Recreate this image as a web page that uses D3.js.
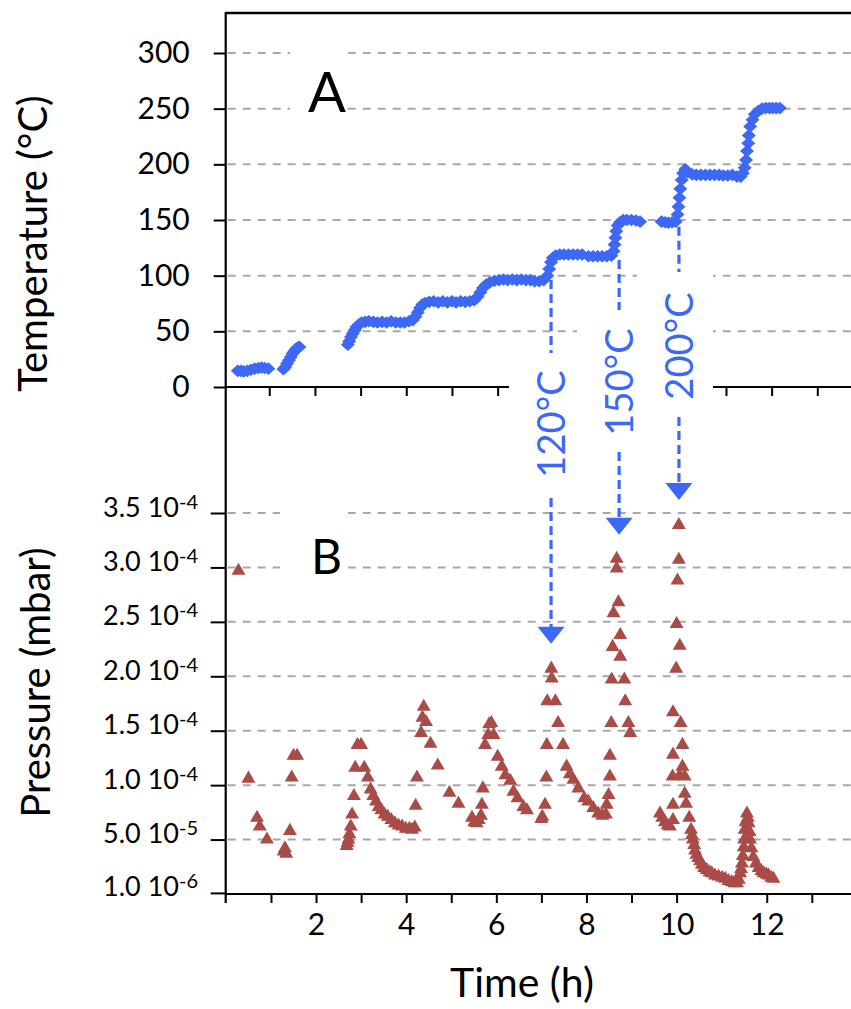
<!DOCTYPE html>
<html lang="en">
<head>
<meta charset="UTF-8">
<title>Temperature and pressure vs time</title>
<script src="https://d3js.org/d3.v7.min.js"></script>
<style>
  body { margin: 0; background: #fff; }
  text { font-family: Lato, "Open Sans", sans-serif; fill: #000; }
</style>
</head>
<body>
<script>
// ---- data ----
const tempTime = [0.31,0.38,0.44,0.52,0.60,0.68,0.76,0.83,0.90,0.98,
  1.31,1.35,1.39,1.43,1.47,1.51,1.55,1.58,1.62,1.66,
  2.72,2.75,2.79,2.83,2.87,2.91,2.96,3.02,3.10,3.18,3.28,3.37,3.47,3.57,3.67,3.77,3.87,3.96,4.06,4.14,4.20,4.25,4.30,4.35,4.41,
  4.50,4.60,4.70,4.80,4.90,5.00,5.09,5.19,5.29,5.39,5.49,5.56,5.62,5.68,5.75,5.83,5.93,6.03,6.13,6.22,6.32,6.42,6.52,6.62,6.72,6.81,6.91,7.01,
  7.09,7.13,7.17,7.21,7.27,7.36,7.45,7.55,7.65,7.75,7.85,7.99,8.09,8.19,8.29,8.39,8.49,8.54,8.56,8.58,8.60,8.63,8.68,8.75,8.83,8.93,9.03,9.12,
  9.59,9.67,9.74,9.82,9.90,9.94,9.96,9.98,10.00,10.03,10.06,10.11,10.16,10.26,10.35,10.45,10.55,10.65,10.75,10.85,10.94,11.04,11.14,11.24,
  11.32,11.37,11.41,11.44,11.46,11.49,11.50,11.53,11.58,11.63,11.71,11.79,11.87,11.95,12.02,12.10,12.18];
const tempValue = [14.5,14.5,14,14.5,15.5,16.5,17,17.5,17,16.5,
  16,18,21,24,27,30,32,34,35.5,36,
  38,41,45,48,51,54,56,58,58.5,59,58.5,58,58.5,58,59,58,58,58,59,60,63,67,71,74,75.5,
  76.5,77,76,77,76,77,76,77,76.5,77,78,81,85,89,92,94,95.5,96,96.5,96,96.5,96,96.5,96,96,95,95,96,
  100,106,112,116,118,119,119,119,119,119,119,117.5,117.5,117.5,117.5,117.5,118,122,128,134,140,145,148,150,150,150,149.5,148.5,
  148.5,148,147.5,148,148.5,155,162,170,178,186,192,195.5,193,191,190.5,190.5,190.5,190.5,190.5,190.5,190,190,190.5,189,
  189,192,197,204,212,219,226,234,240,245,248,250,250.5,250.5,250.5,250.5,250.5,250];

// pressure in units of 10^-4 mbar
const presTime = [0.28,0.50,0.69,0.75,0.91,1.28,1.31,1.34,1.42,1.46,1.50,1.58,
  2.68,2.70,2.72,2.74,2.77,2.80,2.84,2.87,2.92,3.00,3.07,3.15,3.21,3.27,3.33,3.39,3.45,3.52,3.59,3.67,3.75,3.83,3.91,3.99,4.07,4.13,4.19,
  4.21,4.24,4.33,4.36,4.39,4.44,4.54,4.70,4.96,5.16,5.46,5.51,5.56,5.61,5.66,5.68,5.70,5.75,5.82,5.84,5.89,5.94,6.03,6.12,6.20,6.31,6.38,6.47,6.60,6.68,
  7.00,7.02,7.08,7.11,7.12,7.13,7.22,7.23,7.31,7.37,7.48,7.56,7.63,7.71,7.82,7.95,8.04,8.15,8.26,8.35,8.43,
  8.45,8.49,8.52,8.52,8.55,8.56,8.58,8.60,8.67,8.67,8.71,8.75,8.75,8.84,8.86,8.93,8.97,
  9.63,9.68,9.74,9.80,9.85,9.92,9.92,9.91,9.92,9.92,9.99,10.00,10.02,10.05,10.05,10.07,10.09,10.13,10.13,10.07,10.18,10.18,10.21,10.28,
  10.32,10.34,10.36,10.39,10.41,10.44,10.48,10.52,10.56,10.61,10.67,10.73,10.78,10.85,10.93,11.01,11.08,11.15,11.22,11.28,11.34,
  11.38,11.41,11.43,11.45,11.47,11.49,11.50,11.51,11.53,11.56,11.58,11.60,11.62,11.63,11.66,11.70,11.76,11.82,11.88,11.93,11.99,12.04,12.10,12.15];
const presValue = [2.97,1.06,0.70,0.62,0.50,0.39,0.42,0.37,0.58,1.07,1.27,1.27,
  0.44,0.47,0.50,0.55,0.62,0.73,0.90,1.16,1.37,1.37,1.16,1.07,0.96,0.90,0.85,0.80,0.77,0.73,0.71,0.68,0.65,0.63,0.62,0.60,0.60,0.59,0.61,
  0.81,1.07,1.48,1.62,1.72,1.58,1.38,1.18,0.93,0.83,0.70,0.66,0.65,0.68,0.72,0.82,0.97,1.37,1.46,1.56,1.57,1.46,1.26,1.17,1.09,1.04,0.94,0.88,0.80,0.77,
  0.69,0.71,0.82,1.07,1.37,1.77,2.07,1.98,1.77,1.57,1.37,1.17,1.10,1.05,0.97,0.88,0.85,0.79,0.74,0.72,0.73,
  0.82,0.91,1.08,1.27,1.57,1.97,2.27,2.58,3.08,2.99,2.68,2.38,2.18,1.97,1.77,1.57,1.48,
  0.74,0.70,0.66,0.63,0.62,0.68,0.82,1.08,1.28,1.67,2.07,2.48,2.88,3.07,3.39,2.28,1.57,1.37,1.17,1.09,1.08,0.92,0.83,0.70,
  0.59,0.54,0.50,0.45,0.40,0.36,0.33,0.30,0.27,0.24,0.22,0.20,0.19,0.17,0.16,0.15,0.14,0.12,0.11,0.10,0.10,
  0.13,0.19,0.23,0.28,0.35,0.43,0.50,0.59,0.66,0.74,0.70,0.65,0.57,0.50,0.42,0.34,0.28,0.24,0.21,0.19,0.18,0.17,0.15,0.14];

const tempTicks = [0, 50, 100, 150, 200, 250, 300];
const presTicks = [0.01, 0.5, 1.0, 1.5, 2.0, 2.5, 3.0, 3.5];
const presTickMant = ["1.0", "5.0", "1.0", "1.5", "2.0", "2.5", "3.0", "3.5"];
const presTickExp = ["-6", "-5", "-4", "-4", "-4", "-4", "-4", "-4"];
const timeTicks = [2, 4, 6, 8, 10, 12];

const annotLabels = ["120°C", "150°C", "200°C"];
const annotTime = [7.17, 8.66, 9.97];
const annotFromT = [96, 114, 144];
const annotToP = [2.30, 3.30, 3.62];

// ---- layout ----
const W = 851, H = 1009;
const axisX = 225.7, rightX = 851, topY = 13;
const blue = "#3d68f5", brown = "#a94c48", grid = "#a8a8a8";

const svg = d3.select("body").append("svg").attr("width", W).attr("height", H);

const xTop = d3.scaleLinear().domain([0, 14]).range([223.6, 223.6 + 14 * 45.67]);
const xBot = d3.scaleLinear().domain([0, 14]).range([225.9, 225.9 + 14 * 45.07]);
const yT = d3.scaleLinear().domain([0, 300]).range([387, 53]);
const yP = d3.scaleLinear().domain([0, 3.5]).range([894, 513]);

// gridlines
svg.append("g").selectAll("line").data(tempTicks.filter(v => v > 0)).join("line")
  .attr("x1", axisX + 2).attr("x2", rightX).attr("y1", d => yT(d)).attr("y2", d => yT(d))
  .attr("stroke", grid).attr("stroke-width", 2).attr("stroke-dasharray", "8,7");
svg.append("g").selectAll("line").data(presTicks.filter(v => v > 0.1)).join("line")
  .attr("x1", axisX + 2).attr("x2", rightX).attr("y1", d => yP(d)).attr("y2", d => yP(d))
  .attr("stroke", grid).attr("stroke-width", 2).attr("stroke-dasharray", "8,7");

// axes
const gyT = svg.append("g").attr("transform", `translate(${axisX},0)`)
  .call(d3.axisLeft(yT).tickValues(tempTicks).tickSize(12).tickPadding(24).tickSizeOuter(0));
gyT.select(".domain").remove();
gyT.selectAll("line").attr("stroke-width", 2);
gyT.selectAll("text").attr("font-size", 30).attr("font-family", "Lato");

const gyP = svg.append("g").attr("transform", `translate(${axisX},0)`)
  .call(d3.axisLeft(yP).tickValues(presTicks).tickSize(15).tickFormat("").tickSizeOuter(0));
gyP.select(".domain").remove();
gyP.selectAll("line").attr("stroke-width", 2);
const pl = svg.append("g").selectAll("text").data(presTicks).join("text")
  .attr("x", 198).attr("y", d => yP(d) + 3.5).attr("text-anchor", "end").attr("font-size", 27);
pl.append("tspan").text((d, i) => presTickMant[i] + " 10");
pl.append("tspan").attr("dy", -8).attr("font-size", 20).text((d, i) => presTickExp[i]);

const gxT = svg.append("g").attr("transform", "translate(0,387)")
  .call(d3.axisBottom(xTop).tickValues(d3.range(1, 14)).tickSize(9).tickFormat("").tickSizeOuter(0));
gxT.select(".domain").remove();
gxT.selectAll("line").attr("stroke-width", 2);

const gxB = svg.append("g").attr("transform", "translate(0,894)")
  .call(d3.axisBottom(xBot).tickValues(d3.range(1, 14)).tickSize(9).tickPadding(11).tickSizeOuter(0)
    .tickFormat(d => timeTicks.includes(d) ? d : ""));
gxB.select(".domain").remove();
gxB.selectAll("line").attr("stroke-width", 2);
gxB.selectAll("text").attr("font-size", 30).attr("font-family", "Lato");

// frame lines
svg.append("line").attr("x1", axisX).attr("x2", axisX).attr("y1", topY - 1).attr("y2", 903)
  .attr("stroke", "#000").attr("stroke-width", 2.2);
svg.append("line").attr("x1", axisX).attr("x2", rightX).attr("y1", topY).attr("y2", topY)
  .attr("stroke", "#000").attr("stroke-width", 2.5);
svg.append("line").attr("x1", axisX).attr("x2", rightX).attr("y1", 387).attr("y2", 387)
  .attr("stroke", "#000").attr("stroke-width", 2.2);
svg.append("line").attr("x1", axisX).attr("x2", rightX).attr("y1", 894).attr("y2", 894)
  .attr("stroke", "#000").attr("stroke-width", 2.2);

// white label boxes (they break the gridlines in the original)
const boxes = [[290, 40, 58, 85], [280, 500, 68, 85],
  [509, 362, 76, 126], [577, 318, 78, 128], [637, 274, 76, 138]];
svg.append("g").selectAll("rect").data(boxes).join("rect")
  .attr("x", d => d[0]).attr("y", d => d[1]).attr("width", d => d[2]).attr("height", d => d[3])
  .attr("fill", "#fff");

// panel letters
svg.append("text").attr("x", 308).attr("y", 112).attr("font-size", 56).text("A");
svg.append("text").attr("x", 311).attr("y", 574).attr("font-size", 48).text("B");

// axis titles
svg.append("text").attr("transform", "translate(47,243.5) rotate(-90)")
  .attr("text-anchor", "middle").attr("font-size", 40).text("Temperature (°C)");
svg.append("text").attr("transform", "translate(50,682.5) rotate(-90)")
  .attr("text-anchor", "middle").attr("font-size", 40).text("Pressure (mbar)");
svg.append("text").attr("x", 522).attr("y", 997)
  .attr("text-anchor", "middle").attr("font-size", 41).text("Time (h)");

// data
const diamond = "M0,-6.3L7,0L0,6.3L-7,0Z";
svg.append("g").selectAll("path").data(tempTime).join("path")
  .attr("transform", (d, i) => `translate(${xTop(d)},${yT(tempValue[i])})`)
  .attr("d", diamond).attr("fill", blue);

const tri = d3.symbol(d3.symbolTriangle, 84)();
svg.append("g").selectAll("path").data(presTime).join("path")
  .attr("transform", (d, i) => `translate(${xBot(d)},${yP(presValue[i])})`)
  .attr("d", tri).attr("fill", brown);

// annotations: dashed arrows from the temperature step to the pressure peak
const topEnd = [353, 310, 272], labelY = [424, 382, 346], botStart = [498, 452, 417];
const ag = svg.append("g");
annotLabels.forEach((lab, i) => {
  const x = xTop(annotTime[i]);
  const tip = yP(annotToP[i]);
  ag.append("line").attr("x1", x).attr("x2", x).attr("y1", yT(annotFromT[i])).attr("y2", topEnd[i])
    .attr("stroke", blue).attr("stroke-width", 3.2).attr("stroke-dasharray", "9,5");
  ag.append("line").attr("x1", x).attr("x2", x).attr("y1", botStart[i]).attr("y2", tip - 14)
    .attr("stroke", blue).attr("stroke-width", 3.2).attr("stroke-dasharray", "9,5");
  ag.append("path").attr("d", `M${x - 13.5},${tip - 17}L${x + 13.5},${tip - 17}L${x},${tip}Z`)
    .attr("fill", blue);
  ag.append("text").attr("transform", `translate(${x},${labelY[i]}) rotate(-90)`)
    .attr("text-anchor", "middle").attr("dy", "0.36em")
    .attr("font-family", "'Liberation Sans Narrow', 'Liberation Sans', sans-serif")
    .attr("font-size", 38).style("fill", blue).text(lab);
});
</script>
</body>
</html>
